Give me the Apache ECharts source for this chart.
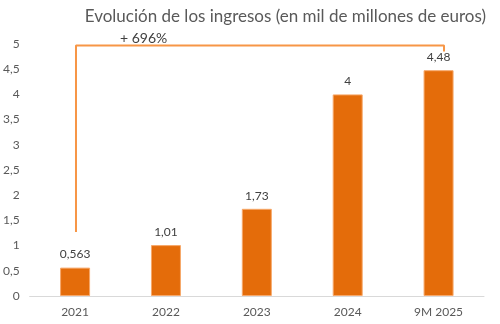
<!DOCTYPE html>
<html><head><meta charset="utf-8">
<script src="https://cdn.jsdelivr.net/npm/echarts@6/dist/echarts.min.js"></script>
<style>html,body{margin:0;padding:0;background:#fff}#c{width:500px;height:324px}</style>
</head><body><div id="c"></div>
<script>
const categories = ['2021', '2022', '2023', '2024', '9M 2025'];
const values = [0.563, 1.01, 1.73, 4, 4.48];
const valueLabels = ['0,563', '1,01', '1,73', '4', '4,48'];
const bracketX = [0.01, 0.01, 4.06, 4.06];
const bracketY = [1.27, 4.97, 4.97, 4.85];
const growthLabel = '+ 696%';
const titleText = 'Evolución de los ingresos (en mil de millones de euros)';

const chart = echarts.init(document.getElementById('c'));
const fam = 'Lato, "Open Sans", sans-serif';
chart.setOption({
  animation: false,
  title: { text: titleText, right: 9, top: 3,
    textStyle: { fontFamily: fam, fontSize: 17, fontWeight: 'normal', color: '#595959' } },
  grid: { left: 26, right: 16, top: 44, bottom: 28 },
  xAxis: [{
    type: 'category', data: categories,
    axisLine: { lineStyle: { color: '#d9d9d9' } },
    axisTick: { show: false },
    axisLabel: { color: '#595959', fontFamily: fam, fontSize: 12, margin: 10 }
  }, {
    type: 'value', min: -0.5, max: 4.5, show: false
  }],
  yAxis: {
    type: 'value', min: 0, max: 5, interval: 0.5,
    splitLine: { show: false }, axisLine: { show: false }, axisTick: { show: false },
    axisLabel: { color: '#595959', fontFamily: fam, fontSize: 12, margin: 10,
      formatter: v => String(v).replace('.', ',') }
  },
  series: [{
    type: 'bar', data: values, barWidth: 30, xAxisIndex: 0,
    itemStyle: { color: '#E46C0A', borderColor: '#F7A86A', borderWidth: 1 },
    label: { show: true, position: 'top', distance: 7, color: '#404040', fontFamily: fam, fontSize: 12,
      formatter: p => valueLabels[p.dataIndex] }
  }, {
    type: 'line', xAxisIndex: 1, symbol: 'none',
    data: bracketX.map((x, i) => [x, bracketY[i]]),
    lineStyle: { color: '#F79646', width: 2 }
  }],
  graphic: [{ type: 'text', left: 120, top: 31,
    style: { text: growthLabel, fill: '#404040', font: '14px ' + fam } }]
});
</script></body></html>
